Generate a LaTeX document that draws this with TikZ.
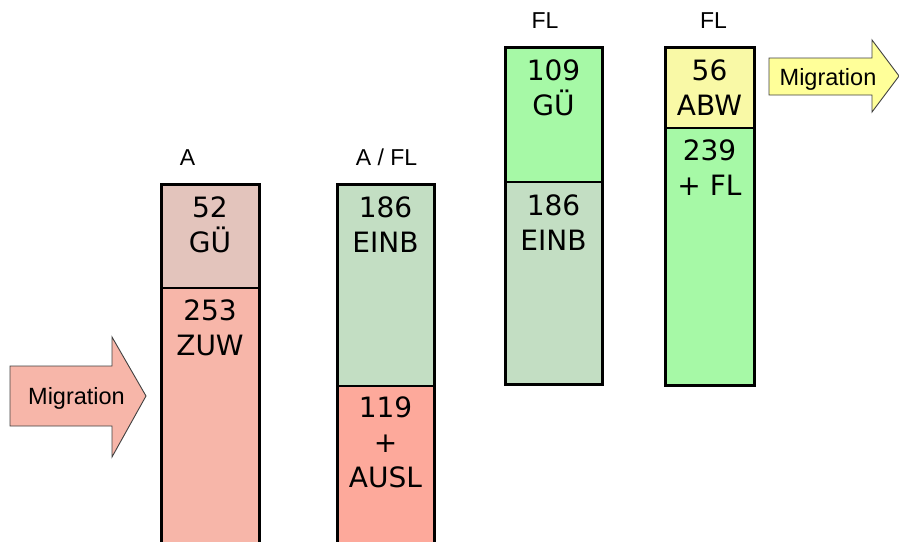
\documentclass[tikz,border=0pt]{standalone}
\usepackage{fontspec}
\setmainfont{DejaVu Sans}
\newfontfamily\arialfont{Liberation Sans}
\definecolor{gutop}{HTML}{E3C4BC}
\definecolor{zuw}{HTML}{F7B6A9}
\definecolor{einb}{HTML}{C3DEC3}
\definecolor{ausl}{HTML}{FDA99B}
\definecolor{flgreen}{HTML}{A6F9A6}
\definecolor{abw}{HTML}{F9F9A6}
\definecolor{migy}{HTML}{FFFF99}
\definecolor{arrowline}{HTML}{404040}
\tikzset{
  segtext/.style={font=\fontsize{28}{35}\selectfont, align=center, anchor=north, inner sep=0pt},
  divider/.style={line width=1.2pt, black},
  colframe/.style={line width=3pt, black},
  coltitle/.style={font=\arialfont\fontsize{23}{27}\selectfont, anchor=base, inner sep=0pt},
  migtext/.style={font=\arialfont\fontsize{23.5}{28}\selectfont, anchor=base, inner sep=0pt},
  migarrow/.style={draw=arrowline, line width=0.9pt, line join=miter},
}
\begin{document}
\begin{tikzpicture}[x=1pt,y=-1pt]
\useasboundingbox (0,0) rectangle (899,541);
\clip (0,0) rectangle (899,541);
% ---- column A
\path[fill=gutop] (161,184) rectangle (259,288);
\path[fill=zuw] (161,288) rectangle (259,560);
\draw[divider] (161,288) -- (259,288);
\draw[colframe] (161,560) -- (161,184) -- (259,184) -- (259,560);
\node[segtext] (a1) at (210,196.6) {52\\GÜ};
\node[segtext] (a2) at (210,299.6) {253\\ZUW};
\node[coltitle] (ta) at (187.5,165) {A};
% ---- column A / FL
\path[fill=einb] (337,184) rectangle (434,386);
\path[fill=ausl] (337,386) rectangle (434,560);
\draw[divider] (337,386) -- (434,386);
\draw[colframe] (337,560) -- (337,184) -- (434,184) -- (434,560);
\node[segtext] (b1) at (385.5,196.6) {186\\EINB};
\node[segtext] (b2) at (385.5,396.6) {119\\+\\AUSL};
\node[coltitle] (tb) at (386.5,165) {A / FL};
% ---- column FL 1
\path[fill=flgreen] (505,47) rectangle (602,182);
\path[fill=einb] (505,182) rectangle (602,384);
\draw[divider] (505,182) -- (602,182);
\draw[colframe] (505,47) rectangle (602,384);
\node[segtext] (c1) at (553.5,59.6) {109\\GÜ};
\node[segtext] (c2) at (553.5,194.6) {186\\EINB};
\node[coltitle] (tc) at (545,28) {FL};
% ---- column FL 2
\path[fill=abw] (665,47) rectangle (754,128);
\path[fill=flgreen] (665,128) rectangle (754,385);
\draw[divider] (665,128) -- (754,128);
\draw[colframe] (665,47) rectangle (754,385);
\node[segtext] (d1) at (709.5,59.6) {56\\ABW};
\node[segtext] (d2) at (709.5,139.6) {239\\+ FL};
\node[coltitle] (td) at (713.5,28) {FL};
% ---- migration arrows
\draw[migarrow, fill=zuw] (10,366) -- (112,366) -- (112,337) -- (146,396)
  -- (112,457) -- (112,426) -- (10,426) -- cycle;
\node[migtext] (m1) at (76.5,404) {Migration};
\draw[migarrow, fill=migy] (769,58) -- (872,58) -- (872,40) -- (899,76)
  -- (872,112) -- (872,95) -- (769,95) -- cycle;
\node[migtext] (m2) at (828,85) {Migration};
\end{tikzpicture}
\end{document}
